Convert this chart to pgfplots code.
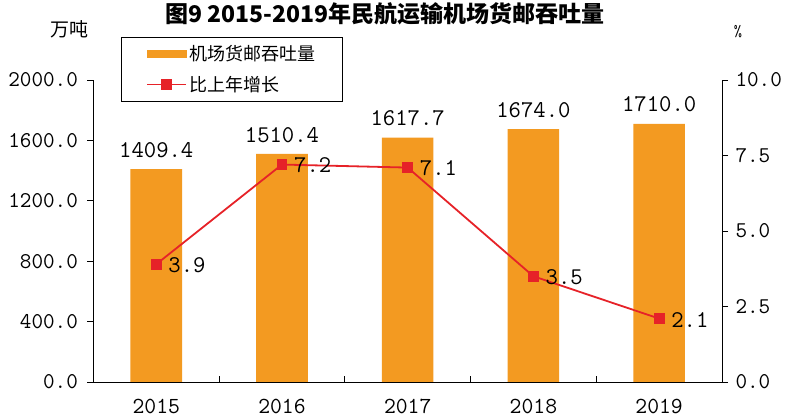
\documentclass[border=0pt]{standalone}
\usepackage{fontspec}
\usepackage{pgfplots}
\pgfplotsset{compat=1.18}
\newfontfamily\cjk{Noto Sans CJK SC}
\definecolor{barorange}{RGB}{243,154,33}
\definecolor{linered}{RGB}{230,34,40}
\begin{document}
\begin{tikzpicture}
\useasboundingbox (0,0) rectangle (792pt,419pt);
\pgfplotsset{
  base/.style={
    at={(93.4pt,37pt)}, anchor=south west,
    scale only axis, width=628.6pt, height=302pt,
    xmin=-0.5, xmax=4.5, ymin=0,
    /pgf/number format/assume math mode=true,
    /pgf/number format/fixed, /pgf/number format/fixed zerofill,
    /pgf/number format/precision=1, /pgf/number format/1000 sep={},
    tick label style={font=\ttfamily\fontsize{22.5}{22.5}\selectfont},
    axis line style={-, line width=0.8pt, black},
    tick style={line width=0.8pt, black},
    major tick length=6pt,
    minor tick length=6pt,
    tick align=outside,
  }
}
\begin{axis}[base,
  ymax=2000, ytick={0,400,...,2000},
  axis y line*=left, axis x line*=bottom,
  y tick label style={xshift=-6pt},
  xtick={0,1,2,3,4}, xticklabels={2015,2016,2017,2018,2019},
  major x tick style={draw=none},
  minor xtick={0.5,1.5,2.5,3.5},
  minor x tick style={yshift=6pt},
  x tick label style={font=\ttfamily\fontsize{23}{23}\selectfont, yshift=-8pt},
  ]
\addplot[ybar, fill=barorange, draw=none, bar width=0.41,
  nodes near coords,
  every node near coord/.append style={font=\ttfamily\fontsize{24}{24}\selectfont, black, yshift=8pt}]
  coordinates {(0,1409.4) (1,1510.4) (2,1617.7) (3,1674.0) (4,1710.0)};
\end{axis}
\begin{axis}[base,
  ymax=10, ytick={0,2.5,5,7.5,10},
  axis y line*=right, axis x line=none,
  y tick label style={xshift=4pt},
  legend style={at={(0.044,1.142)}, anchor=north west, draw=black, line width=0.8pt,
    font=\cjk\fontsize{18}{18}\selectfont, inner xsep=25pt, inner ysep=6pt, row sep=10pt},
  legend cell align=left,
  ]
\addlegendimage{legend image code/.code={\fill[barorange] (0pt,-3.5pt) rectangle (39pt,3.5pt);}}
\addlegendentry{机场货邮吞吐量}
\addplot[linered, line width=1.8pt, mark=square*, mark size=4.5pt, mark options={fill=linered, draw=linered},
  nodes near coords,
  every node near coord/.append style={anchor=west, xshift=8pt, yshift=-1pt, black, font=\ttfamily\fontsize{24}{24}\selectfont},
  legend image code/.code={\draw[linered, line width=1.8pt] (0pt,0pt) -- (39pt,0pt); \fill[linered] (15pt,-4.5pt) rectangle (24pt,4.5pt);}]
  coordinates {(0,3.9) (1,7.2) (2,7.1) (3,3.5) (4,2.1)};
\addlegendentry{比上年增长}
\end{axis}
\node[font=\cjk\bfseries\fontsize{23}{23}\selectfont] at (385pt,405pt) {图9 2015-2019年民航运输机场货邮吞吐量};
\node[font=\cjk\fontsize{19}{19}\selectfont] at (69pt,390pt) {万吨};
\node[font=\ttfamily\fontsize{16}{16}\selectfont] at (738pt,387pt) {\%};
\end{tikzpicture}
\end{document}
